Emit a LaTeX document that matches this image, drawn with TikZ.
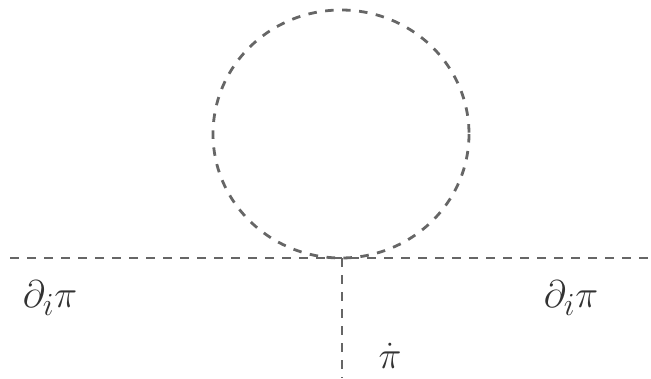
\documentclass[tikz,border=0pt]{standalone}
\usepackage{amsmath}
\begin{document}
\begin{tikzpicture}[x=1pt,y=-1pt,
  prop/.style={draw=black!60,line width=2.8pt,dash pattern=on 8.5pt off 8.5pt},
  lab/.style={text=black!80,font=\Huge,scale=1.55,inner sep=0pt}]
\useasboundingbox (0,0) rectangle (651,378);
\coordinate (L) at (10,258);
\coordinate (R) at (651,258);
\coordinate (V) at (342,258);
\coordinate (B) at (342,378);
\coordinate (C) at (341,134);
\draw[prop] (L) -- (R);
\draw[prop] (V) -- (B);
\draw[prop] (C) ellipse [x radius=128, y radius=124];
\node[lab] (l1) at (50,298) {$\partial_i\pi$};
\node[lab] (l2) at (571,298) {$\partial_i\pi$};
\node[lab] (l3) at (390,356) {$\dot\pi$};
\end{tikzpicture}
\end{document}
